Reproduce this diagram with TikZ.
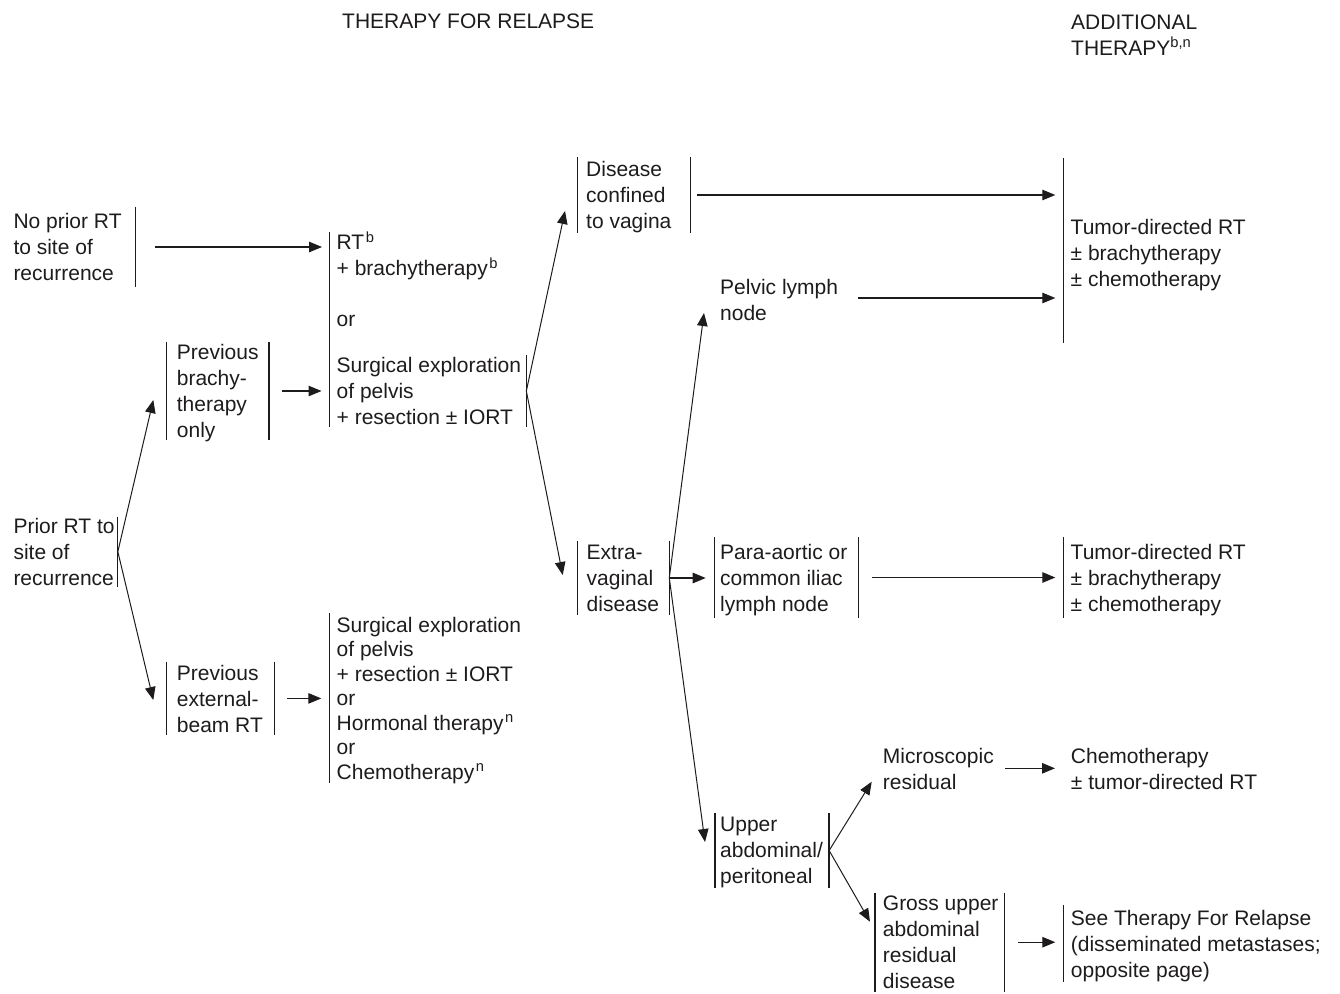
\documentclass[tikz,border=0pt]{standalone}
\usepackage{fontspec}
\setmainfont{Liberation Sans}
\usetikzlibrary{arrows.meta}
\definecolor{ink}{RGB}{30,27,28}
\newcommand\bodyfont{\fontsize{21}{26}\selectfont}
\newcommand\tightfont{\fontsize{21}{24.5}\selectfont}

\begin{document}
\begin{tikzpicture}[x=1pt,y=-1pt,
  txt/.style={font=\bodyfont, text=ink, align=left, inner sep=0pt, anchor=west,
              text depth=-0.5pt},
  tall/.style={minimum height=#1},
  bar/.style={draw=ink, line width=1.3pt},
  arr/.style={draw=ink, line width=1.1pt, -{Triangle[length=13pt,width=10.5pt]}},
  fork/.style={arr, line width=1pt},
]
\useasboundingbox (0,0) rectangle (1340,993);

% column headings
\node[txt] (hRel) at (342,21) {THERAPY FOR RELAPSE};
\node[txt] (hAdd) at (1071,35) {ADDITIONAL\\THERAPY\textsuperscript{b,n}};

% ---- starting situations
\node[txt, tall=80pt] (np) at (13.3,247) {No prior RT\\to site of\\recurrence};
\coordinate (npR) at ([xshift=13.5]np.east);
\draw[bar] (npR |- np.north) -- (npR |- np.south);

\node[txt, tall=70pt] (pr) at (13.3,551.7) {Prior RT to\\site of\\recurrence};
\coordinate (prR) at ([xshift=3]pr.east);
\draw[bar] (prR |- pr.north) -- (prR |- pr.south);

\node[txt, tall=98pt] (pb) at (176.7,391) {Previous\\brachy-\\therapy\\only};
\coordinate (pbL) at ([xshift=-10]pb.west);
\coordinate (pbR) at ([xshift=10.3]pb.east);
\draw[bar] (pbL |- pb.north) -- (pbL |- pb.south);
\draw[bar] (pbR |- pb.north) -- (pbR |- pb.south);

\node[txt, tall=73pt] (pe) at (176.7,698.4) {Previous\\external-\\beam RT};
\coordinate (peL) at ([xshift=-10]pe.west);
\coordinate (peR) at ([xshift=11.2]pe.east);
\draw[bar] (peL |- pe.north) -- (peL |- pe.south);
\draw[bar] (peR |- pe.north) -- (peR |- pe.south);

% ---- therapy for relapse
\node[txt, anchor=north west] (bbA) at (336.5,231.2)
  {RT\kern1.5pt\textsuperscript{b}\\+ brachytherapy\kern1.5pt\textsuperscript{b}\\[25pt]or};
\node[txt, tall=72pt] (bbB) at (336.5,391) {Surgical exploration\\of pelvis\\+ resection ± IORT};
\coordinate (bbL) at ([xshift=-7]bbB.west);
\coordinate (bbR) at ([xshift=5]bbB.east);
\draw[bar] ([yshift=-0.5pt]bbL |- bbA.north) -- (bbL |- bbB.south);
\draw[bar] (bbR |- bbB.north) -- (bbR |- bbB.south);

\node[txt, font=\tightfont, tall=170pt] (bbC) at (336.5,698)
  {Surgical exploration\\of pelvis\\+ resection ± IORT\\or\\Hormonal therapy\kern1.5pt\textsuperscript{n}\\or\\Chemotherapy\kern1.5pt\textsuperscript{n}};
\coordinate (bcL) at ([xshift=-7.2]bbC.west);
\draw[bar] (bcL |- bbC.north) -- (bcL |- bbC.south);

% ---- site of disease
\node[txt, tall=76pt] (dis) at (586,195) {Disease\\confined\\to vagina};
\coordinate (disL) at ([xshift=-8.7]dis.west);
\coordinate (disR) at ([xshift=18.8]dis.east);
\draw[bar] (disL |- dis.north) -- (disL |- dis.south);
\draw[bar] (disR |- dis.north) -- (disR |- dis.south);

\node[txt, tall=74.3pt] (ex) at (586.5,578) {Extra-\\vaginal\\disease};
\coordinate (exL) at ([xshift=-8.8]ex.west);
\coordinate (exR) at ([xshift=10]ex.east);
\draw[bar] (exL |- ex.north) -- (exL |- ex.south);
\draw[bar] (exR |- ex.north) -- (exR |- ex.south);

\node[txt] (pel) at (720,299.5) {Pelvic lymph\\node};

\node[txt, tall=81pt] (pa) at (720,577.5) {Para-aortic or\\common iliac\\lymph node};
\coordinate (paL) at ([xshift=-5.7]pa.west);
\coordinate (paR) at ([xshift=11]pa.east);
\draw[bar] (paL |- pa.north) -- (paL |- pa.south);
\draw[bar] (paR |- pa.north) -- (paR |- pa.south);

\node[txt, tall=75pt] (up) at (720,850.5) {Upper\\abdominal/\\peritoneal};
\coordinate (upL) at ([xshift=-5]up.west);
\coordinate (upR) at ([xshift=6]up.east);
\draw[bar] (upL |- up.north) -- (upL |- up.south);
\draw[bar] (upR |- up.north) -- (upR |- up.south);

\node[txt] (mic) at (882.7,768.7) {Microscopic\\residual};

\node[txt, tall=99pt] (gr) at (882.7,942.2) {Gross upper\\abdominal\\residual\\disease};
\coordinate (grL) at ([xshift=-7.7]gr.west);
\coordinate (grR) at ([xshift=6]gr.east);
\draw[bar] (grL |- gr.north) -- (grL |- gr.south);
\draw[bar] (grR |- gr.north) -- (grR |- gr.south);

% ---- additional therapy
\node[txt] (tA) at (1070.5,252.5) {Tumor-directed RT\\± brachytherapy\\± chemotherapy};
\coordinate (taL) at ([shift={(-7.2,-2)}]tA.west);
\draw[bar] ([shift={(0,-92.5)}]taL) -- ([shift={(0,92.5)}]taL);

\node[txt, tall=81pt] (tB) at (1070.5,577.5) {Tumor-directed RT\\± brachytherapy\\± chemotherapy};
\coordinate (tbL) at ([xshift=-7.2]tB.west);
\draw[bar] (tbL |- tB.north) -- (tbL |- tB.south);

\node[txt] (chem) at (1070.7,768.7) {Chemotherapy\\± tumor-directed RT};

\node[txt, tall=76.7pt] (see) at (1070.7,943.4) {See Therapy For Relapse\\(disseminated metastases;\\opposite page)};
\coordinate (seL) at ([xshift=-7.4]see.west);
\draw[bar] (seL |- see.north) -- (seL |- see.south);

% ---- connectors
\draw[arr] ([xshift=20]npR) -- ([xshift=-7.5]bbL |- npR);
\draw[fork] (prR) -- ([shift={(-13.4,9)}]pbL);
\draw[fork] (prR) -- ([shift={(-13.4,1.6)}]peL);
\draw[arr] ([xshift=13]pbR) -- ([xshift=-8]bbL |- pbR);
\draw[arr] ([xshift=12.4]peR) -- ([xshift=-8]bcL |- peR);

\draw[fork] (bbR) -- ([shift={(-12.3,16)}]disL);
\draw[fork] (bbR) -- ([shift={(-15,-3)}]exL);

\draw[arr] ([xshift=7]disR) -- ([xshift=-8]taL |- disR);
\coordinate (pelA) at ([shift={(20,-1.5)}]pel.east);
\draw[arr] (pelA) -- ([xshift=-8]taL |- pelA);

\draw[fork] (exR) -- ([shift={(-16,13.5)}]pel.west);
\draw[arr] (exR) -- ([xshift=-8.6]paL |- exR);
\draw[fork] (exR) -- ([shift={(-10,-8.5)}]upL);
\draw[arr] ([xshift=13.4]paR) -- ([xshift=-8]tbL |- paR);

\draw[fork] (upR) -- ([shift={(-11,13)}]mic.west);
\draw[fork] (upR) -- ([shift={(-5,-20.5)}]grL);
\coordinate (micA) at ([shift={(11.5,-0.4)}]mic.east);
\draw[arr] (micA) -- ([xshift=-15.7]chem.west |- micA);
\draw[arr] ([xshift=13.7]grR) -- ([xshift=-8]seL |- grR);
\end{tikzpicture}
\end{document}
